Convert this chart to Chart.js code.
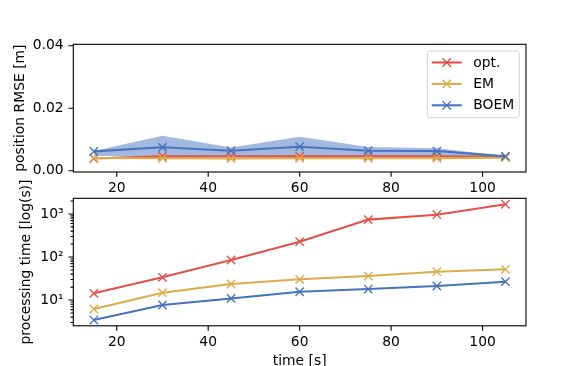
<!DOCTYPE html>
<html><head><meta charset="utf-8">
<script src="https://cdn.jsdelivr.net/npm/chart.js@4/dist/chart.umd.min.js"></script>
<style>
html,body{margin:0;padding:0;background:#fff;overflow:hidden;width:584px;height:366px;}
.box{position:absolute;left:0;width:584px;}
</style></head><body>
<div class="box" style="top:0;height:196px"><canvas id="c1" width="584" height="196"></canvas></div>
<div class="box" style="top:178px;height:192px"><canvas id="c2" width="584" height="192"></canvas></div>
<script>
// ---- data ----
const timeSec = [15, 30, 45, 60, 75, 90, 105];
const seriesNames = ['opt.', 'EM', 'BOEM'];
const rmseOpt = [0.0039, 0.0046, 0.0046, 0.0046, 0.0046, 0.0046, 0.0045];
const rmseEM = [0.0041, 0.0040, 0.0039, 0.0040, 0.0040, 0.0040, 0.0042];
const rmseBOEM = [0.0062, 0.0075, 0.0064, 0.0077, 0.0064, 0.0063, 0.0046];
const rmseBOEMUpper = [0.0063, 0.0112, 0.0074, 0.0109, 0.0076, 0.0072, 0.0047];
const rmseBOEMLower = [0.0048, 0.0042, 0.0044, 0.0042, 0.0045, 0.0045, 0.0044];
const procOpt = [14.3, 33.7, 85, 227, 738, 960, 1680];
const procEM = [6.2, 14.8, 23.6, 30.3, 36.1, 45.5, 51.8];
const procBOEM = [3.43, 7.66, 10.9, 15.6, 18.0, 21.2, 26.7];
const xTicks = [20, 40, 60, 80, 100];
const rmseTicks = [0, 0.02, 0.04];
const rmseTickLabels = ['0.00', '0.02', '0.04'];
const logMajorTicks = [10, 100, 1000];
const logMajorLabels = ['10\u00B9', '10\u00B2', '10\u00B3'];
const logMinorTicks = [3, 4, 5, 6, 7, 8, 9, 20, 30, 40, 50, 60, 70, 80, 90, 200, 300, 400, 500, 600, 700, 800, 900, 2000];

// ---- style ----
const PT = 100 / 72;
const FS = 10 * PT;
const colors = ['#e2514a', '#dcac48', '#4672c0'];
const bandColor = 'rgba(70,114,192,0.5)';
Chart.defaults.font.family = 'DejaVu Sans';
Chart.defaults.font.size = FS;
Chart.defaults.color = '#000';

const pts = arr => arr.map((v, i) => ({x: timeSec[i], y: v}));

function lineDs(label, vals, color, order) {
  return {label, data: pts(vals), borderColor: color, backgroundColor: color,
    borderWidth: 1.5 * PT, pointStyle: 'crossRot', pointRadius: 6 * PT / Math.SQRT2,
    pointBorderWidth: 1 * PT, pointBorderColor: color, pointHoverRadius: 6 * PT / Math.SQRT2,
    fill: false, order};
}

const frameTicks = {
  id: 'frameTicks',
  afterDraw(chart, args, opts) {
    const {ctx, chartArea: a, scales} = chart;
    ctx.save();
    ctx.strokeStyle = '#000';
    ctx.lineWidth = 0.8 * PT;
    ctx.beginPath();
    scales.x.ticks.forEach(t => {
      const px = scales.x.getPixelForValue(t.value);
      ctx.moveTo(px, a.bottom); ctx.lineTo(px, a.bottom + 3.5 * PT);
    });
    scales.y.ticks.forEach(t => {
      const py = scales.y.getPixelForValue(t.value);
      const len = t.major ? 3.5 * PT : 2 * PT;
      ctx.moveTo(a.left, py); ctx.lineTo(a.left - len, py);
    });
    ctx.stroke();
    ctx.strokeRect(a.left, a.top, a.right - a.left, a.bottom - a.top);
    ctx.restore();
    if (opts.legend) drawLegend(chart);
  }
};

function drawLegend(chart) {
  const {ctx, chartArea: a} = chart;
  const w = 92, h = 66.7;
  const right = a.right - 6.7, top = a.top + 6.7, left = right - w;
  ctx.save();
  ctx.beginPath();
  ctx.roundRect(left, top, w, h, 3);
  ctx.fillStyle = 'rgba(255,255,255,0.8)';
  ctx.fill();
  ctx.strokeStyle = '#d0d0d0';
  ctx.lineWidth = 1;
  ctx.stroke();
  seriesNames.forEach((name, i) => {
    const y = top + 11.5 + i * 21.4;
    const x0 = left + 4.4, x1 = x0 + 30, xm = (x0 + x1) / 2;
    ctx.strokeStyle = colors[i];
    ctx.lineWidth = 1.5 * PT;
    ctx.beginPath(); ctx.moveTo(x0, y); ctx.lineTo(x1, y); ctx.stroke();
    const r = 3 * PT;
    ctx.lineWidth = 1 * PT;
    ctx.beginPath();
    ctx.moveTo(xm - r, y - r); ctx.lineTo(xm + r, y + r);
    ctx.moveTo(xm - r, y + r); ctx.lineTo(xm + r, y - r);
    ctx.stroke();
    ctx.fillStyle = '#000';
    ctx.font = FS + 'px "DejaVu Sans"';
    ctx.textBaseline = 'middle';
    ctx.textAlign = 'left';
    ctx.fillText(name, left + 46, y + 0.5);
  });
  ctx.restore();
}

function zeroPad(s) { s.paddingTop = 0; s.paddingBottom = 0; s.paddingLeft = 0; s.paddingRight = 0; }

function xScale(height, title) {
  return {
    type: 'linear', min: 10.5, max: 109.5,
    grid: {display: false, drawTicks: false}, border: {display: false},
    afterBuildTicks: s => { s.ticks = xTicks.map(v => ({value: v, major: true})); },
    ticks: {padding: 8.3, autoSkip: false, maxRotation: 0, callback: v => String(v), font: {size: FS}},
    title: title ? {display: true, text: title, padding: {top: 0, bottom: 0}, font: {size: FS}} : {display: false},
    afterFit: s => { s.height = height; zeroPad(s); }
  };
}

// ---- top chart ----
new Chart(document.getElementById('c1'), {
  type: 'line',
  data: {datasets: [
    {label: 'band-upper', data: pts(rmseBOEMUpper), borderWidth: 0, pointRadius: 0, pointHoverRadius: 0,
      fill: '+1', backgroundColor: bandColor, borderColor: 'rgba(0,0,0,0)', order: 10},
    {label: 'band-lower', data: pts(rmseBOEMLower), borderWidth: 0, pointRadius: 0, pointHoverRadius: 0,
      fill: false, borderColor: 'rgba(0,0,0,0)', order: 11},
    lineDs(seriesNames[0], rmseOpt, colors[0], 3),
    lineDs(seriesNames[1], rmseEM, colors[1], 2),
    lineDs(seriesNames[2], rmseBOEM, colors[2], 1)
  ]},
  options: {
    responsive: false, animation: false,
    layout: {padding: {left: 0, right: 58, top: 44.3, bottom: 0}},
    plugins: {legend: {display: false}, tooltip: {enabled: false}, frameTicks: {legend: true}},
    scales: {
      x: xScale(24, null),
      y: {
        type: 'linear', min: -0.0004, max: 0.04045,
        grid: {display: false, drawTicks: false}, border: {display: false},
        afterBuildTicks: s => { s.ticks = rmseTicks.map(v => ({value: v, major: true})); },
        ticks: {padding: 7 * PT, autoSkip: false,
          callback: (v) => rmseTickLabels[rmseTicks.indexOf(v)], font: {size: FS}},
        title: {display: true, text: 'position RMSE [m]', padding: {top: 12.5, bottom: 0}, font: {size: FS}},
        afterFit: s => { s.width = 73.3; zeroPad(s); }
      }
    }
  },
  plugins: [frameTicks]
});

// ---- bottom chart ----
new Chart(document.getElementById('c2'), {
  type: 'line',
  data: {datasets: [
    lineDs(seriesNames[0], procOpt, colors[0], 3),
    lineDs(seriesNames[1], procEM, colors[1], 2),
    lineDs(seriesNames[2], procBOEM, colors[2], 1)
  ]},
  options: {
    responsive: false, animation: false,
    layout: {padding: {left: 0, right: 58, top: 20.3, bottom: 0}},
    plugins: {legend: {display: false}, tooltip: {enabled: false}, frameTicks: {legend: false}},
    scales: {
      x: xScale(44.2, 'time [s]'),
      y: {
        type: 'logarithmic', min: 2.52, max: 2310,
        grid: {display: false, drawTicks: false}, border: {display: false},
        afterBuildTicks: s => {
          s.ticks = logMajorTicks.map(v => ({value: v, major: true}))
            .concat(logMinorTicks.map(v => ({value: v, major: false})));
        },
        ticks: {padding: 7 * PT, autoSkip: false,
          callback: (v) => { const k = logMajorTicks.indexOf(v); return k >= 0 ? logMajorLabels[k] : ''; },
          font: {size: FS}},
        title: {display: true, text: 'processing time [log(s)]', padding: {top: 18.4, bottom: 0}, font: {size: FS}},
        afterFit: s => { s.width = 73.3; zeroPad(s); }
      }
    }
  },
  plugins: [frameTicks]
});
</script>
</body></html>
